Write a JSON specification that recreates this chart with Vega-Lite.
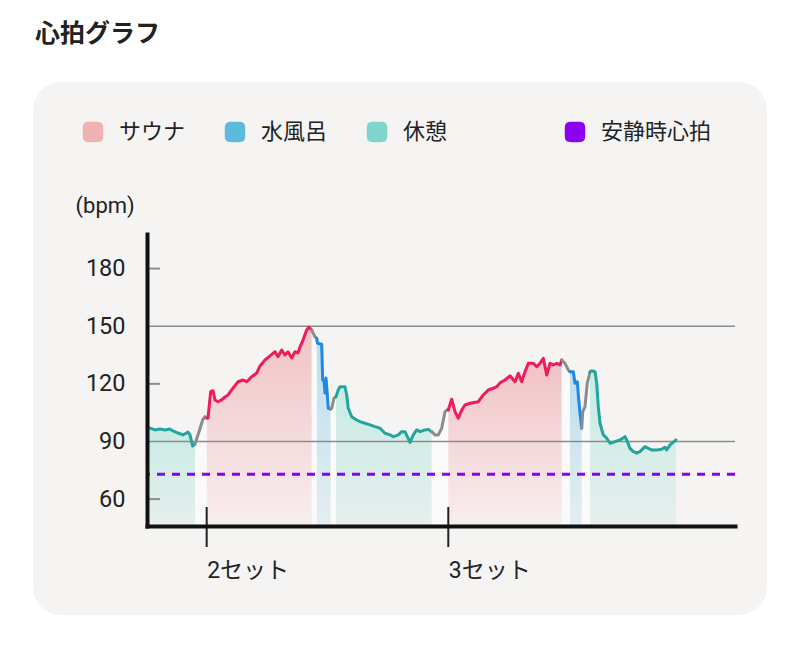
{
  "$schema": "https://vega.github.io/schema/vega-lite/v6.json",
  "autosize": {"type": "none"},
  "width": 588,
  "height": 292,
  "padding": {"left": 147, "top": 234, "right": 65, "bottom": 129},
  "background": "#ffffff",
  "title": {"text": "心拍グラフ", "anchor": "start", "frame": "group", "dx": -112, "offset": 35, "fontSize": 25, "fontWeight": "bold", "color": "#222222", "font": "Roboto, 'Noto Sans CJK JP', sans-serif"},
  "config": {
    "view": {"stroke": null},
    "font": "Roboto, 'Noto Sans CJK JP', sans-serif"
  },
  "datasets": {
    "hr": [
      {"t":0,"bpm":97.7,"seg":1,"phase":"休憩"},{"t":0.51,"bpm":97.0,"seg":1,"phase":"休憩"},{"t":1.36,"bpm":96.0,"seg":1,"phase":"休憩"},{"t":2.21,"bpm":96.5,"seg":1,"phase":"休憩"},{"t":3.06,"bpm":96.0,"seg":1,"phase":"休憩"},{"t":3.91,"bpm":96.5,"seg":1,"phase":"休憩"},{"t":4.42,"bpm":95.5,"seg":1,"phase":"休憩"},{"t":5.27,"bpm":94.4,"seg":1,"phase":"休憩"},{"t":6.12,"bpm":93.4,"seg":1,"phase":"休憩"},{"t":6.97,"bpm":94.9,"seg":1,"phase":"休憩"},{"t":7.31,"bpm":93.4,"seg":1,"phase":"休憩"},{"t":7.77,"bpm":87.6,"seg":1,"phase":"休憩"},{"t":8.16,"bpm":88.7,"seg":1,"phase":"休憩"},
      {"t":8.16,"bpm":88.7,"seg":2,"phase":"移動"},{"t":8.67,"bpm":93.4,"seg":2,"phase":"移動"},{"t":9.47,"bpm":101.2,"seg":2,"phase":"移動"},{"t":9.86,"bpm":102.9,"seg":2,"phase":"移動"},{"t":10.15,"bpm":102.2,"seg":2,"phase":"移動"},
      {"t":10.15,"bpm":102.2,"seg":3,"phase":"サウナ"},{"t":10.37,"bpm":102.2,"seg":3,"phase":"サウナ"},{"t":10.83,"bpm":115.9,"seg":3,"phase":"サウナ"},{"t":11.22,"bpm":116.4,"seg":3,"phase":"サウナ"},{"t":11.56,"bpm":111.6,"seg":3,"phase":"サウナ"},{"t":12.07,"bpm":110.7,"seg":3,"phase":"サウナ"},{"t":12.7,"bpm":111.6,"seg":3,"phase":"サウナ"},{"t":13.27,"bpm":113.2,"seg":3,"phase":"サウナ"},{"t":13.78,"bpm":114.2,"seg":3,"phase":"サウナ"},{"t":14.63,"bpm":117.8,"seg":3,"phase":"サウナ"},{"t":15.48,"bpm":121.1,"seg":3,"phase":"サウナ"},{"t":16.33,"bpm":122.0,"seg":3,"phase":"サウナ"},{"t":16.96,"bpm":121.1,"seg":3,"phase":"サウナ"},{"t":17.81,"bpm":123.7,"seg":3,"phase":"サウナ"},{"t":18.66,"bpm":125.6,"seg":3,"phase":"サウナ"},{"t":19.22,"bpm":129.3,"seg":3,"phase":"サウナ"},{"t":20.07,"bpm":132.5,"seg":3,"phase":"サウナ"},{"t":20.92,"bpm":134.6,"seg":3,"phase":"サウナ"},{"t":21.77,"bpm":136.7,"seg":3,"phase":"サウナ"},{"t":22.28,"bpm":134.1,"seg":3,"phase":"サウナ"},{"t":22.91,"bpm":137.6,"seg":3,"phase":"サウナ"},{"t":23.47,"bpm":135.0,"seg":3,"phase":"サウナ"},{"t":23.98,"bpm":136.7,"seg":3,"phase":"サウナ"},{"t":24.61,"bpm":133.5,"seg":3,"phase":"サウナ"},{"t":25.17,"bpm":136.7,"seg":3,"phase":"サウナ"},{"t":25.68,"bpm":136.1,"seg":3,"phase":"サウナ"},{"t":26.02,"bpm":139.3,"seg":3,"phase":"サウナ"},{"t":26.53,"bpm":142.8,"seg":3,"phase":"サウナ"},{"t":27.16,"bpm":148.0,"seg":3,"phase":"サウナ"},{"t":27.55,"bpm":149.5,"seg":3,"phase":"サウナ"},{"t":28.01,"bpm":148.0,"seg":3,"phase":"サウナ"},
      {"t":28.01,"bpm":148.0,"seg":4,"phase":"移動"},{"t":28.57,"bpm":144.5,"seg":4,"phase":"移動"},{"t":28.86,"bpm":143.7,"seg":4,"phase":"移動"},
      {"t":28.86,"bpm":143.7,"seg":5,"phase":"水風呂"},{"t":29.0,"bpm":141.1,"seg":5,"phase":"水風呂"},{"t":29.71,"bpm":140.6,"seg":5,"phase":"水風呂"},{"t":29.88,"bpm":122.0,"seg":5,"phase":"水風呂"},{"t":30.1,"bpm":122.0,"seg":5,"phase":"水風呂"},{"t":30.27,"bpm":115.2,"seg":5,"phase":"水風呂"},{"t":30.45,"bpm":123.0,"seg":5,"phase":"水風呂"},{"t":30.83,"bpm":107.3,"seg":5,"phase":"水風呂"},{"t":31.24,"bpm":106.9,"seg":5,"phase":"水風呂"},
      {"t":31.24,"bpm":106.9,"seg":6,"phase":"移動"},{"t":31.41,"bpm":107.3,"seg":6,"phase":"移動"},{"t":31.8,"bpm":112.5,"seg":6,"phase":"移動"},{"t":32.14,"bpm":113.3,"seg":6,"phase":"移動"},
      {"t":32.14,"bpm":113.3,"seg":7,"phase":"休憩"},{"t":32.53,"bpm":116.8,"seg":7,"phase":"休憩"},{"t":32.82,"bpm":118.5,"seg":7,"phase":"休憩"},{"t":33.67,"bpm":118.5,"seg":7,"phase":"休憩"},{"t":33.96,"bpm":114.2,"seg":7,"phase":"休憩"},{"t":34.23,"bpm":107.3,"seg":7,"phase":"休憩"},{"t":34.81,"bpm":102.9,"seg":7,"phase":"休憩"},{"t":35.66,"bpm":101.2,"seg":7,"phase":"休憩"},{"t":36.22,"bpm":100.3,"seg":7,"phase":"休憩"},{"t":37.07,"bpm":99.5,"seg":7,"phase":"休憩"},{"t":37.93,"bpm":98.6,"seg":7,"phase":"休憩"},{"t":38.78,"bpm":97.7,"seg":7,"phase":"休憩"},{"t":39.63,"bpm":96.9,"seg":7,"phase":"休憩"},{"t":40.48,"bpm":94.3,"seg":7,"phase":"休憩"},{"t":41.33,"bpm":93.4,"seg":7,"phase":"休憩"},{"t":41.89,"bpm":92.5,"seg":7,"phase":"休憩"},{"t":42.74,"bpm":93.4,"seg":7,"phase":"休憩"},{"t":43.32,"bpm":95.1,"seg":7,"phase":"休憩"},{"t":43.88,"bpm":95.1,"seg":7,"phase":"休憩"},{"t":44.27,"bpm":92.5,"seg":7,"phase":"休憩"},{"t":44.73,"bpm":89.5,"seg":7,"phase":"休憩"},{"t":45.29,"bpm":93.4,"seg":7,"phase":"休憩"},{"t":45.87,"bpm":96.0,"seg":7,"phase":"休憩"},{"t":46.43,"bpm":95.1,"seg":7,"phase":"休憩"},{"t":47.28,"bpm":96.0,"seg":7,"phase":"休憩"},{"t":47.84,"bpm":96.3,"seg":7,"phase":"休憩"},{"t":48.42,"bpm":95.1,"seg":7,"phase":"休憩"},
      {"t":48.42,"bpm":95.1,"seg":8,"phase":"移動"},{"t":48.98,"bpm":93.4,"seg":8,"phase":"移動"},{"t":49.54,"bpm":93.4,"seg":8,"phase":"移動"},{"t":50.12,"bpm":96.9,"seg":8,"phase":"移動"},{"t":50.68,"bpm":105.5,"seg":8,"phase":"移動"},{"t":50.97,"bpm":106.4,"seg":8,"phase":"移動"},{"t":51.24,"bpm":106.4,"seg":8,"phase":"移動"},
      {"t":51.24,"bpm":106.4,"seg":9,"phase":"サウナ"},{"t":51.82,"bpm":112.0,"seg":9,"phase":"サウナ"},{"t":52.38,"bpm":105.5,"seg":9,"phase":"サウナ"},{"t":52.94,"bpm":102.1,"seg":9,"phase":"サウナ"},{"t":53.52,"bpm":106.4,"seg":9,"phase":"サウナ"},{"t":54.08,"bpm":109.0,"seg":9,"phase":"サウナ"},{"t":54.93,"bpm":109.9,"seg":9,"phase":"サウナ"},{"t":56.34,"bpm":110.7,"seg":9,"phase":"サウナ"},{"t":57.19,"bpm":114.2,"seg":9,"phase":"サウナ"},{"t":58.04,"bpm":116.8,"seg":9,"phase":"サウナ"},{"t":58.89,"bpm":117.7,"seg":9,"phase":"サウナ"},{"t":59.47,"bpm":118.5,"seg":9,"phase":"サウナ"},{"t":60.03,"bpm":120.5,"seg":9,"phase":"サウナ"},{"t":60.88,"bpm":122.0,"seg":9,"phase":"サウナ"},{"t":61.73,"bpm":124.2,"seg":9,"phase":"サウナ"},{"t":62.59,"bpm":121.1,"seg":9,"phase":"サウナ"},{"t":63.15,"bpm":125.5,"seg":9,"phase":"サウナ"},{"t":63.72,"bpm":121.1,"seg":9,"phase":"サウナ"},{"t":64.29,"bpm":126.3,"seg":9,"phase":"サウナ"},{"t":64.85,"bpm":130.7,"seg":9,"phase":"サウナ"},{"t":65.7,"bpm":130.7,"seg":9,"phase":"サウナ"},{"t":66.28,"bpm":128.9,"seg":9,"phase":"サウナ"},{"t":66.84,"bpm":130.7,"seg":9,"phase":"サウナ"},{"t":67.4,"bpm":133.3,"seg":9,"phase":"サウナ"},{"t":67.98,"bpm":124.6,"seg":9,"phase":"サウナ"},{"t":68.54,"bpm":130.7,"seg":9,"phase":"サウナ"},{"t":69.1,"bpm":129.8,"seg":9,"phase":"サウナ"},{"t":69.68,"bpm":130.7,"seg":9,"phase":"サウナ"},{"t":70.24,"bpm":129.8,"seg":9,"phase":"サウナ"},{"t":70.53,"bpm":132.4,"seg":9,"phase":"サウナ"},
      {"t":70.53,"bpm":132.4,"seg":10,"phase":"移動"},{"t":71.09,"bpm":130.7,"seg":10,"phase":"移動"},{"t":71.65,"bpm":127.2,"seg":10,"phase":"移動"},{"t":71.94,"bpm":126.3,"seg":10,"phase":"移動"},
      {"t":71.94,"bpm":126.3,"seg":11,"phase":"水風呂"},{"t":72.5,"bpm":126.3,"seg":11,"phase":"水風呂"},{"t":72.79,"bpm":120.3,"seg":11,"phase":"水風呂"},{"t":73.18,"bpm":121.1,"seg":11,"phase":"水風呂"},{"t":73.35,"bpm":114.2,"seg":11,"phase":"水風呂"},{"t":73.64,"bpm":104.7,"seg":11,"phase":"水風呂"},{"t":73.93,"bpm":96.9,"seg":11,"phase":"水風呂"},
      {"t":73.93,"bpm":96.9,"seg":12,"phase":"移動"},{"t":74.1,"bpm":105.5,"seg":12,"phase":"移動"},{"t":74.49,"bpm":108.1,"seg":12,"phase":"移動"},{"t":74.88,"bpm":120.3,"seg":12,"phase":"移動"},{"t":75.34,"bpm":126.3,"seg":12,"phase":"移動"},
      {"t":75.34,"bpm":126.3,"seg":13,"phase":"休憩"},{"t":75.63,"bpm":126.8,"seg":13,"phase":"休憩"},{"t":76.19,"bpm":126.3,"seg":13,"phase":"休憩"},{"t":76.48,"bpm":120.3,"seg":13,"phase":"休憩"},{"t":76.75,"bpm":108.1,"seg":13,"phase":"休憩"},{"t":77.04,"bpm":99.5,"seg":13,"phase":"休憩"},{"t":77.6,"bpm":93.4,"seg":13,"phase":"休憩"},{"t":78.18,"bpm":91.7,"seg":13,"phase":"休憩"},{"t":78.74,"bpm":89.1,"seg":13,"phase":"休憩"},{"t":79.59,"bpm":89.9,"seg":13,"phase":"休憩"},{"t":80.44,"bpm":90.8,"seg":13,"phase":"休憩"},{"t":81.29,"bpm":92.5,"seg":13,"phase":"休憩"},{"t":81.58,"bpm":90.8,"seg":13,"phase":"休憩"},{"t":82.14,"bpm":86.4,"seg":13,"phase":"休憩"},{"t":82.7,"bpm":84.7,"seg":13,"phase":"休憩"},{"t":83.28,"bpm":84.0,"seg":13,"phase":"休憩"},{"t":83.84,"bpm":84.7,"seg":13,"phase":"休憩"},{"t":84.69,"bpm":87.3,"seg":13,"phase":"休憩"},{"t":85.26,"bpm":86.4,"seg":13,"phase":"休憩"},{"t":85.83,"bpm":85.6,"seg":13,"phase":"休憩"},{"t":86.68,"bpm":85.6,"seg":13,"phase":"休憩"},{"t":87.53,"bpm":85.9,"seg":13,"phase":"休憩"},{"t":88.1,"bpm":87.0,"seg":13,"phase":"休憩"},{"t":88.38,"bpm":85.6,"seg":13,"phase":"休憩"},{"t":88.95,"bpm":88.2,"seg":13,"phase":"休憩"},{"t":89.97,"bpm":90.8,"seg":13,"phase":"休憩"}
    ],
    "sets": [{"t": 10.15, "label": "2セット"}, {"t": 51.24, "label": "3セット"}],
    "guides": [{"bpm": 90}, {"bpm": 150}],
    "minor": [{"bpm": 60}, {"bpm": 120}, {"bpm": 180}],
    "resting": [{"bpm": 73}],
    "panel": [{"name": "panel"}]
  },
  "encoding": {
    "x": {"type": "quantitative", "scale": {"domain": [0, 100], "nice": false, "zero": false}},
    "y": {"type": "quantitative", "scale": {"domain": [46, 198], "nice": false, "zero": false}}
  },
  "layer": [
    {
      "data": {"name": "panel"},
      "mark": {"type": "rect", "fill": "#f5f4f3", "cornerRadius": 28},
      "encoding": {
        "x": {"datum": -19.39, "type": "quantitative"},
        "x2": {"datum": 105.44},
        "y": {"datum": 277.1, "type": "quantitative"},
        "y2": {"datum": -0.33}
      }
    },
    {
      "data": {"name": "hr"},
      "transform": [{"filter": "datum.phase === 'サウナ'"}],
      "mark": {"type": "area", "fill": {"gradient": "linear", "x1": 0, "y1": 0, "x2": 0, "y2": 1, "stops": [{"offset": 0, "color": "#f1c2c5"}, {"offset": 1, "color": "#f8eeee"}]}},
      "encoding": {
        "x": {"field": "t", "type": "quantitative", "axis": {"values": [10.15, 51.24], "labelExpr": "datum.value < 30 ? '2セット' : '3セット'", "labelAlign": "left", "labelBaseline": "top", "labelPadding": 33, "labelFontSize": 23, "labelColor": "#222222", "ticks": false, "grid": false, "domainColor": "#111111", "domainWidth": 4, "domainCap": "square", "title": null, "zindex": 1}},
        "y": {"field": "bpm", "type": "quantitative", "axis": {"values": [60, 90, 120, 150, 180], "labelFontSize": 23.5, "labelColor": "#222222", "labelPadding": 22, "ticks": false, "grid": false, "domainColor": "#111111", "domainWidth": 4, "domainCap": "square", "title": "(bpm)", "titleAngle": 0, "titleAlign": "left", "titleBaseline": "middle", "titleX": -72, "titleY": -29, "titleFontSize": 22, "titleFontWeight": "normal", "titleColor": "#222222", "zindex": 1}},
        "y2": {"datum": 46},
        "detail": {"field": "seg"}
      }
    },
    {
      "data": {"name": "hr"},
      "transform": [{"filter": "datum.phase === '水風呂'"}],
      "mark": {"type": "area", "fill": {"gradient": "linear", "x1": 0, "y1": 0, "x2": 0, "y2": 1, "stops": [{"offset": 0, "color": "#bcdeec"}, {"offset": 1, "color": "#e4eef2"}]}},
      "encoding": {"x": {"field": "t"}, "y": {"field": "bpm"}, "y2": {"datum": 46}, "detail": {"field": "seg"}}
    },
    {
      "data": {"name": "hr"},
      "transform": [{"filter": "datum.phase === '休憩'"}],
      "mark": {"type": "area", "fill": {"gradient": "linear", "x1": 0, "y1": 0, "x2": 0, "y2": 1, "stops": [{"offset": 0, "color": "#c8ebe4"}, {"offset": 1, "color": "#e6efed"}]}},
      "encoding": {"x": {"field": "t"}, "y": {"field": "bpm"}, "y2": {"datum": 46}, "detail": {"field": "seg"}}
    },
    {
      "data": {"name": "hr"},
      "transform": [{"filter": "datum.phase === '移動'"}],
      "mark": {"type": "area", "fill": "#ffffff", "opacity": 0.55},
      "encoding": {"x": {"field": "t"}, "y": {"field": "bpm"}, "y2": {"datum": 46}, "detail": {"field": "seg"}}
    },
    {
      "data": {"name": "guides"},
      "mark": {"type": "rule", "color": "#8c8c8c", "strokeWidth": 1.6},
      "encoding": {"y": {"field": "bpm"}}
    },
    {
      "data": {"name": "minor"},
      "mark": {"type": "rule", "color": "#8c8c8c", "strokeWidth": 2},
      "encoding": {"y": {"field": "bpm"}, "x": {"datum": 0}, "x2": {"datum": 2.2}}
    },
    {
      "data": {"name": "sets"},
      "mark": {"type": "rule", "color": "#222222", "strokeWidth": 2},
      "encoding": {"x": {"field": "t"}, "y": {"datum": 35.07}, "y2": {"datum": 55.9}}
    },
    {
      "data": {"name": "resting"},
      "mark": {"type": "rule", "color": "#8b00f0", "strokeWidth": 3, "strokeDash": [8, 7]},
      "encoding": {"y": {"field": "bpm"}}
    },
    {
      "data": {"name": "hr"},
      "mark": {"type": "line", "strokeWidth": 3, "strokeJoin": "round", "strokeCap": "round"},
      "encoding": {
        "x": {"field": "t"},
        "y": {"field": "bpm"},
        "stroke": {"field": "phase", "type": "nominal", "scale": {"domain": ["サウナ", "水風呂", "休憩", "移動"], "range": ["#ef1b5c", "#1e88e5", "#23a59d", "#8c8c8c"]}, "legend": null},
        "detail": {"field": "seg"}
      }
    },
    {
      "data": {"name": "hr"},
      "transform": [{"filter": "false"}],
      "mark": {"type": "point", "filled": true, "opacity": 1, "size": 400},
      "encoding": {
        "color": {"field": "phase", "type": "nominal", "scale": {"domain": ["サウナ", "水風呂", "休憩"], "range": ["#efb1b1", "#5dbadd", "#7fd5cb"]},
          "legend": {"title": null, "orient": "none", "legendX": -65, "legendY": -113, "direction": "horizontal", "padding": 0, "columnPadding": 38, "labelOffset": 15, "labelFontSize": 22, "labelColor": "#222222", "symbolSize": 420, "symbolOpacity": 1, "symbolStrokeWidth": 0, "symbolType": "M -0.3 -1 L 0.3 -1 C 0.85 -1 1 -0.85 1 -0.3 L 1 0.3 C 1 0.85 0.85 1 0.3 1 L -0.3 1 C -0.85 1 -1 0.85 -1 0.3 L -1 -0.3 C -1 -0.85 -0.85 -1 -0.3 -1 Z"}}
      }
    },
    {
      "data": {"name": "resting"},
      "transform": [{"filter": "false"}],
      "mark": {"type": "point", "filled": true, "opacity": 1, "size": 400},
      "encoding": {
        "fill": {"datum": "安静時心拍", "type": "nominal", "scale": {"domain": ["安静時心拍"], "range": ["#8b00f0"]},
          "legend": {"title": null, "orient": "none", "legendX": 417, "legendY": -113, "direction": "horizontal", "padding": 0, "labelOffset": 15, "labelFontSize": 22, "labelColor": "#222222", "symbolSize": 420, "symbolOpacity": 1, "symbolStrokeWidth": 0, "symbolType": "M -0.3 -1 L 0.3 -1 C 0.85 -1 1 -0.85 1 -0.3 L 1 0.3 C 1 0.85 0.85 1 0.3 1 L -0.3 1 C -0.85 1 -1 0.85 -1 0.3 L -1 -0.3 C -1 -0.85 -0.85 -1 -0.3 -1 Z"}}
      }
    }
  ]
}
